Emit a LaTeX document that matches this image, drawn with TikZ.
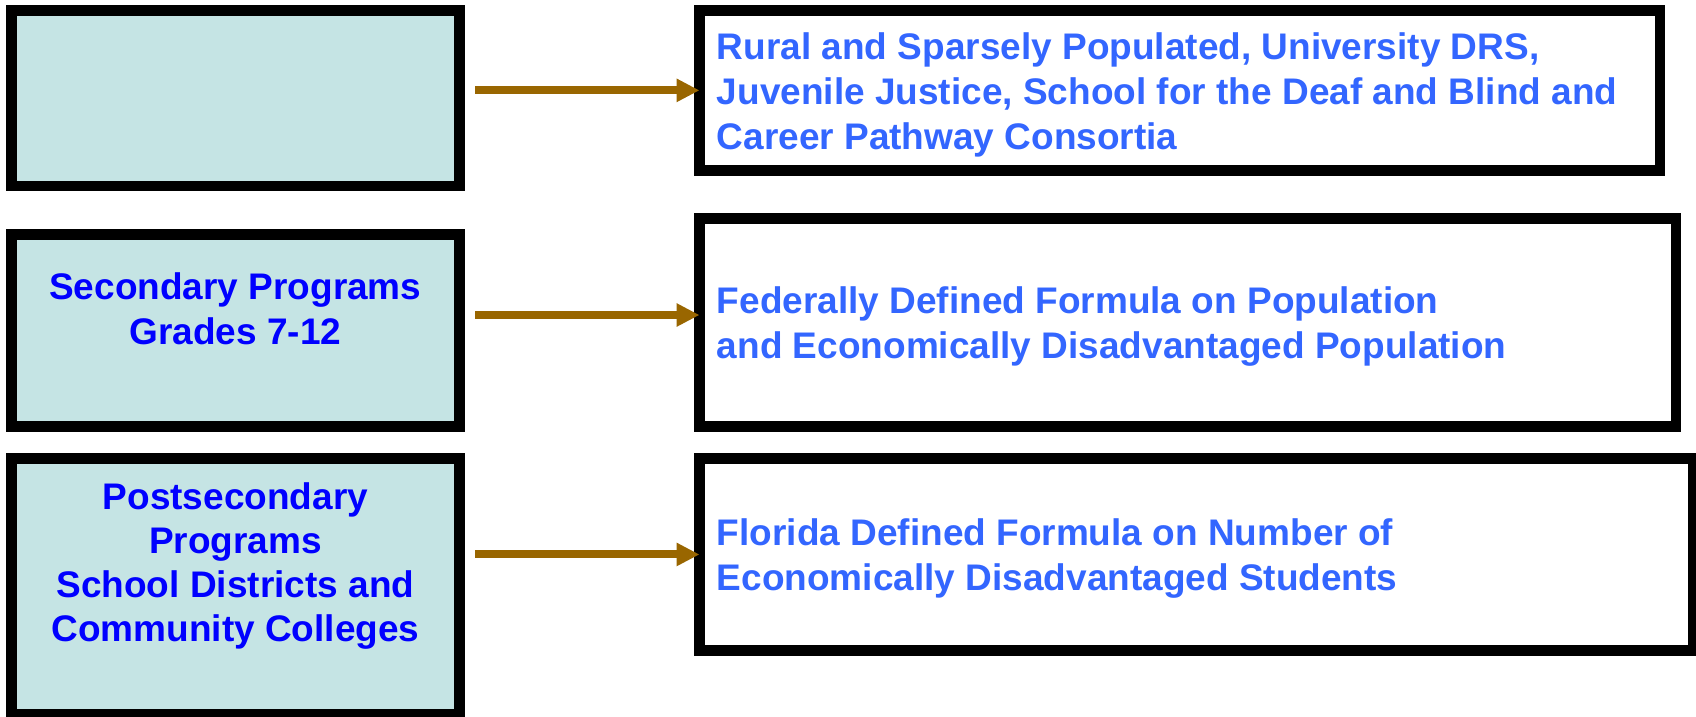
\documentclass[tikz,border=0pt]{standalone}
\usepackage{fontspec}
\setmainfont{Liberation Sans}
\usetikzlibrary{arrows.meta}
\definecolor{boxfill}{RGB}{197,228,228}
\definecolor{ltxt}{RGB}{0,0,255}
\definecolor{rtxt}{RGB}{51,102,255}
\definecolor{arrc}{RGB}{153,102,0}
\begin{document}
\begin{tikzpicture}[x=1pt,y=-1pt,
  basebox/.style={draw=black, line width=10.5pt, inner sep=0pt, outer sep=0pt, anchor=north west},
  lbox/.style={basebox, fill=boxfill},
  rbox/.style={basebox, fill=white},
  ltext/.style={inner sep=0pt, anchor=base, text=ltxt, font=\fontsize{37}{44.6}\selectfont\bfseries},
  rtext/.style={inner sep=0pt, anchor=base west, text=rtxt, font=\fontsize{37}{44.6}\selectfont\bfseries},
  arr/.style={draw=arrc, line width=8pt, shorten <=15.5pt, -{Triangle[length=23pt,width=22pt]}}]
\useasboundingbox (0,0) rectangle (1696,716);
% left boxes
\node[lbox, minimum width=448.2pt, minimum height=175.9pt] (L1) at (11.3,10.3) {};
\node[lbox, minimum width=448.2pt, minimum height=191.8pt] (L2) at (11.3,234.6) {};
\node[lbox, minimum width=448.2pt, minimum height=256pt] (L3) at (11.3,458.6) {};
% right boxes
\node[rbox, minimum width=960.5pt, minimum height=160.1pt] (R1) at (699.5,10.3) {};
\node[rbox, minimum width=976.5pt, minimum height=208.2pt] (R2) at (699.5,218.5) {};
\node[rbox, minimum width=993.5pt, minimum height=191.9pt] (R3) at (699.5,458.5) {};
% left texts
\node[ltext] (l2a) at (235.4,299.3) {Secondary Programs};
\node[ltext] (l2b) at (235.4,344) {Grades 7-12};
\node[ltext] (l3a) at (235.4,509) {Postsecondary};
\node[ltext] (l3b) at (235.4,553.3) {Programs};
\node[ltext] (l3c) at (235.4,597.3) {School Districts and};
\node[ltext] (l3d) at (235.4,641.7) {Community Colleges};
% right texts
\node[rtext] (r1a) at (716.7,59.3) {Rural and Sparsely Populated, University DRS,};
\node[rtext] (r1b) at (716.7,104.3) {Juvenile Justice, School for the Deaf and Blind and};
\node[rtext] (r1c) at (716.7,149) {Career Pathway Consortia};
\node[rtext] (r2a) at (716.7,313.3) {Federally Defined Formula on Population};
\node[rtext] (r2b) at (716.7,358.7) {and Economically Disadvantaged Population};
\node[rtext] (r3a) at (716.7,545) {Florida Defined Formula on Number of};
\node[rtext] (r3b) at (716.7,590) {Economically Disadvantaged Students};
% arrows
\draw[arr] (L1.east |- R1.west) -- (R1.west);
\draw[arr] ([yshift=7.6pt]L2.east |- R2.west) -- ([yshift=7.6pt]R2.west);
\draw[arr] (L3.east |- R3.west) -- (R3.west);
\end{tikzpicture}
\end{document}
